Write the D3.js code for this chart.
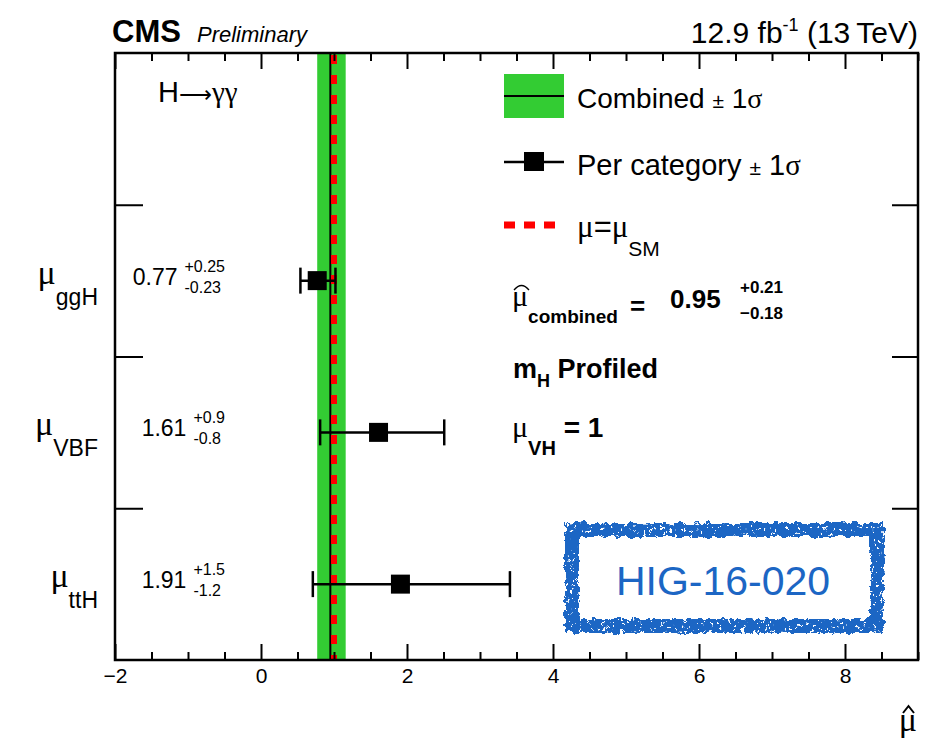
<!DOCTYPE html>
<html>
<head>
<meta charset="utf-8">
<script src="https://cdn.jsdelivr.net/npm/d3@7"></script>
<style>
  body { margin: 0; background: #fff; }
  text { font-family: "Liberation Sans", Arial, sans-serif; }
  .serif { font-family: "Liberation Serif", "DejaVu Serif", serif; }
</style>
</head>
<body>
<div id="chart"></div>
<script>
// per-category fits (top to bottom)
var categories = ['ggH', 'VBF', 'ttH'];
var muValues = [0.77, 1.61, 1.91];
var errUp = [0.25, 0.9, 1.5];
var errDown = [0.23, 0.8, 1.2];
var valueLabels = ['0.77', '1.61', '1.91'];
var upLabels = ['+0.25', '+0.9', '+1.5'];
var downLabels = ['-0.23', '-0.8', '-1.2'];

// combined fit and SM reference
var combinedMu = 0.95;
var combinedUp = 0.21;
var combinedDown = 0.18;
var smValue = 1;

var xDomain = [-2, 9];
var xMajorTicks = [-2, 0, 2, 4, 6, 8];
var yBoundaries = [1, 2, 3];

function draw() {
    var W = 932, H = 742;
    var frame = {left: 115, right: 918, top: 53, bottom: 660};

    var x = d3.scaleLinear().domain(xDomain).range([frame.left, frame.right]);
    var y = d3.scaleLinear().domain([0, categories.length + 1]).range([frame.bottom, frame.top]);
    var rowPos = (d, i) => y(categories.length - i - 0.5);

    var svg = d3.select('#chart').append('svg')
        .attr('width', W)
        .attr('height', H);

    // rough stamp filter
    var defs = svg.append('defs');
    var f = defs.append('filter').attr('id', 'rough')
        .attr('x', '-10%').attr('y', '-20%').attr('width', '120%').attr('height', '140%');
    f.append('feTurbulence').attr('type', 'fractalNoise').attr('baseFrequency', 0.3)
        .attr('numOctaves', 2).attr('seed', 5).attr('result', 'speck');
    f.append('feColorMatrix').attr('in', 'speck').attr('type', 'matrix')
        .attr('values', '0 0 0 0 0  0 0 0 0 0  0 0 0 0 0  0 0 0 -25 17.5').attr('result', 'mask');
    f.append('feComposite').attr('in', 'SourceGraphic').attr('in2', 'mask')
        .attr('operator', 'in').attr('result', 'holed');
    f.append('feTurbulence').attr('type', 'fractalNoise').attr('baseFrequency', 0.15)
        .attr('numOctaves', 3).attr('seed', 2).attr('result', 'warp');
    f.append('feDisplacementMap').attr('in', 'holed').attr('in2', 'warp')
        .attr('scale', 8).attr('xChannelSelector', 'R').attr('yChannelSelector', 'G');

    // combined band
    svg.append('rect')
        .attr('x', x(combinedMu - combinedDown))
        .attr('y', frame.top)
        .attr('width', x(combinedMu + combinedUp) - x(combinedMu - combinedDown))
        .attr('height', frame.bottom - frame.top)
        .attr('fill', '#33cc33');

    svg.append('line')
        .attr('x1', x(combinedMu)).attr('x2', x(combinedMu))
        .attr('y1', frame.top).attr('y2', frame.bottom)
        .attr('stroke', '#000').attr('stroke-width', 2);

    svg.append('line')
        .attr('x1', x(smValue)).attr('x2', x(smValue))
        .attr('y1', frame.top + 2).attr('y2', frame.bottom)
        .attr('stroke', '#ff0000').attr('stroke-width', 6)
        .attr('stroke-dasharray', '9 11');

    // per category points
    var pts = svg.append('g').selectAll('g')
        .data(categories)
        .enter()
        .append('g')
        .attr('transform', (d, i) => `translate(0, ${rowPos(d, i)})`);

    pts.append('line')
        .attr('x1', (d, i) => x(muValues[i] - errDown[i]))
        .attr('x2', (d, i) => x(muValues[i] + errUp[i]))
        .attr('stroke', '#000').attr('stroke-width', 2.5);
    pts.append('line')
        .attr('x1', (d, i) => x(muValues[i] - errDown[i]))
        .attr('x2', (d, i) => x(muValues[i] - errDown[i]))
        .attr('y1', -13).attr('y2', 13)
        .attr('stroke', '#000').attr('stroke-width', 2.5);
    pts.append('line')
        .attr('x1', (d, i) => x(muValues[i] + errUp[i]))
        .attr('x2', (d, i) => x(muValues[i] + errUp[i]))
        .attr('y1', -13).attr('y2', 13)
        .attr('stroke', '#000').attr('stroke-width', 2.5);
    pts.append('rect')
        .attr('x', (d, i) => x(muValues[i]) - 9.5)
        .attr('y', -9.5)
        .attr('width', 19).attr('height', 19)
        .attr('fill', '#000');

    // axes (ticks inward, frame drawn separately)
    var minor = d3.range(xDomain[0], xDomain[1] + 0.01, 0.5).filter(v => xMajorTicks.indexOf(v) < 0);
    var fmt = d => d < 0 ? '\u2212' + Math.abs(d) : String(d);

    var xb = svg.append('g').attr('transform', `translate(0, ${frame.bottom})`)
        .call(d3.axisBottom(x).tickValues(xMajorTicks).tickSize(-16).tickPadding(8).tickFormat(fmt));
    svg.append('g').attr('transform', `translate(0, ${frame.bottom})`)
        .call(d3.axisBottom(x).tickValues(minor).tickSize(-8).tickFormat(''));
    svg.append('g').attr('transform', `translate(0, ${frame.top})`)
        .call(d3.axisTop(x).tickValues(xMajorTicks).tickSize(-16).tickFormat(''));
    svg.append('g').attr('transform', `translate(0, ${frame.top})`)
        .call(d3.axisTop(x).tickValues(minor).tickSize(-8).tickFormat(''));
    svg.append('g').attr('transform', `translate(${frame.left}, 0)`)
        .call(d3.axisLeft(y).tickValues(yBoundaries).tickSize(-28).tickFormat(''));
    svg.append('g').attr('transform', `translate(${frame.right}, 0)`)
        .call(d3.axisRight(y).tickValues(yBoundaries).tickSize(-26).tickFormat(''));

    svg.selectAll('.domain').remove();
    svg.selectAll('.tick line').attr('stroke', '#000').attr('stroke-width', 2);
    xb.selectAll('.tick text')
        .style('font-family', '"Liberation Sans", Arial, sans-serif')
        .style('font-size', '21px')
        .style('fill', '#000');

    svg.append('rect')
        .attr('x', frame.left).attr('y', frame.top)
        .attr('width', frame.right - frame.left)
        .attr('height', frame.bottom - frame.top)
        .attr('fill', 'none')
        .attr('stroke', '#000').attr('stroke-width', 2.5);

    // category labels on the left
    var catLab = svg.append('g').selectAll('text')
        .data(categories)
        .enter()
        .append('text')
        .attr('x', 98)
        .attr('y', (d, i) => rowPos(d, i) + 3)
        .attr('text-anchor', 'end');
    catLab.append('tspan').attr('class', 'serif').style('font-size', '34px').text('\u03bc');
    catLab.append('tspan').attr('dy', 21).style('font-size', '23px').text(d => d);

    // value labels, right aligned with sup/sub errors
    var valG = svg.append('g').selectAll('g')
        .data(categories)
        .enter()
        .append('g')
        .attr('transform', (d, i) => `translate(0, ${rowPos(d, i)})`);
    valG.append('text').attr('class', 'val').attr('text-anchor', 'end')
        .attr('y', 4).style('font-size', '23px').text((d, i) => valueLabels[i]);
    valG.append('text').attr('class', 'sup').attr('x', 7)
        .attr('y', -9).style('font-size', '16px').text((d, i) => upLabels[i]);
    valG.append('text').attr('class', 'sub').attr('x', 7)
        .attr('y', 12).style('font-size', '16px').text((d, i) => downLabels[i]);
    valG.each(function (d, i) {
        var g = d3.select(this);
        var wmax = Math.max(g.select('.sup').node().getComputedTextLength(),
                            g.select('.sub').node().getComputedTextLength());
        var shift = 225 - 7 - wmax;
        g.attr('transform', `translate(${shift}, ${rowPos(d, i)})`);
    });

    // header
    var cms = svg.append('text').attr('x', 112).attr('y', 42);
    cms.append('tspan').style('font-size', '31px').style('font-weight', 700).text('CMS');
    cms.append('tspan').attr('x', 197).style('font-size', '22px').style('font-style', 'italic').text('Preliminary');

    var lumi = svg.append('text').attr('x', 918).attr('y', 43).attr('text-anchor', 'end')
        .style('font-size', '30px');
    lumi.append('tspan').text('12.9 fb');
    lumi.append('tspan').attr('dy', -12).style('font-size', '18px').text('-1');
    lumi.append('tspan').attr('dy', 12).text(' (13\u2009TeV)');

    var hgg = svg.append('text').attr('x', 158).attr('y', 102).style('font-size', '29px');
    hgg.append('tspan').text('H');
    hgg.append('tspan').style('font-size', '23px').text('\u27f6');
    hgg.append('tspan').attr('class', 'serif').text('\u03b3\u03b3');

    // legend
    var leg = svg.append('g');
    leg.append('rect').attr('x', 504).attr('y', 74).attr('width', 60).attr('height', 44).attr('fill', '#33cc33');
    leg.append('line').attr('x1', 504).attr('x2', 564).attr('y1', 96).attr('y2', 96)
        .attr('stroke', '#000').attr('stroke-width', 2);
    var t1 = leg.append('text').attr('x', 577).attr('y', 108).style('font-size', '28px');
    t1.append('tspan').text('Combined ');
    t1.append('tspan').style('font-size', '21px').text('\u00b1');
    t1.append('tspan').text(' 1');
    t1.append('tspan').attr('class', 'serif').text('\u03c3');

    leg.append('line').attr('x1', 504).attr('x2', 564).attr('y1', 162).attr('y2', 162)
        .attr('stroke', '#000').attr('stroke-width', 2.5);
    leg.append('rect').attr('x', 524).attr('y', 152).attr('width', 20).attr('height', 19).attr('fill', '#000');
    var t2 = leg.append('text').attr('x', 577).attr('y', 175).style('font-size', '29px');
    t2.append('tspan').text('Per category ');
    t2.append('tspan').style('font-size', '21px').text('\u00b1');
    t2.append('tspan').text(' 1');
    t2.append('tspan').attr('class', 'serif').text('\u03c3');

    leg.append('line').attr('x1', 504).attr('x2', 556).attr('y1', 225).attr('y2', 225)
        .attr('stroke', '#ff0000').attr('stroke-width', 7).attr('stroke-dasharray', '11 9');
    var t3 = leg.append('text').attr('x', 577).attr('y', 237).style('font-size', '31px');
    t3.append('tspan').attr('class', 'serif').text('\u03bc');
    t3.append('tspan').text('=');
    t3.append('tspan').attr('class', 'serif').text('\u03bc');
    t3.append('tspan').attr('dy', 19).style('font-size', '21px').text('SM');

    // fitted signal strength
    var t4 = leg.append('text').attr('x', 512).attr('y', 306).style('font-size', '30px');
    t4.append('tspan').attr('class', 'serif').text('\u03bc');
    t4.append('tspan').attr('dy', 17).style('font-size', '19px').style('font-weight', 700).text('combined');
    leg.append('path').attr('d', 'M514,290 Q521.5,281 529,290').attr('fill', 'none')
        .attr('stroke', '#000').attr('stroke-width', 1.3);
    leg.append('text').attr('x', 630).attr('y', 315).style('font-size', '26px').style('font-weight', 700).text('=');
    leg.append('text').attr('x', 670).attr('y', 308).style('font-size', '26px').style('font-weight', 700)
        .text(String(combinedMu));
    leg.append('text').attr('x', 740).attr('y', 293).style('font-size', '17px').style('font-weight', 700)
        .text('+' + combinedUp);
    leg.append('text').attr('x', 740).attr('y', 319).style('font-size', '17px').style('font-weight', 700)
        .text('\u2212' + combinedDown);

    var t5 = leg.append('text').attr('x', 513).attr('y', 378).style('font-size', '27px').style('font-weight', 700);
    t5.append('tspan').text('m');
    t5.append('tspan').attr('dy', 9).style('font-size', '18px').text('H');
    t5.append('tspan').attr('dy', -9).text(' Profiled');

    var t6 = leg.append('text').attr('x', 512).attr('y', 437).style('font-size', '30px');
    t6.append('tspan').attr('class', 'serif').text('\u03bc');
    t6.append('tspan').attr('dy', 18).style('font-size', '20px').style('font-weight', 700).text('VH');
    t6.append('tspan').attr('dy', -18).style('font-weight', 700).style('font-size', '28px').text(' = 1');

    // stamp
    var stampColor = '#1c66c4';
    svg.append('rect')
        .attr('x', 572).attr('y', 530).attr('width', 305).attr('height', 96)
        .attr('fill', 'none')
        .attr('stroke', stampColor).attr('stroke-width', 14)
        .attr('filter', 'url(#rough)');
    svg.append('text')
        .attr('x', 723).attr('y', 595)
        .attr('text-anchor', 'middle')
        .style('font-size', '41px')
        .style('fill', stampColor)
        .text('HIG-16-020');

    // x axis title
    svg.append('text').attr('class', 'serif')
        .attr('x', 917).attr('y', 731).attr('text-anchor', 'end')
        .style('font-size', '34px')
        .text('\u03bc');
    svg.append('path').attr('d', 'M903,713 L908.5,706 L914,713').attr('fill', 'none')
        .attr('stroke', '#000').attr('stroke-width', 2);
}

document.addEventListener('DOMContentLoaded', draw);
</script>
</body>
</html>
